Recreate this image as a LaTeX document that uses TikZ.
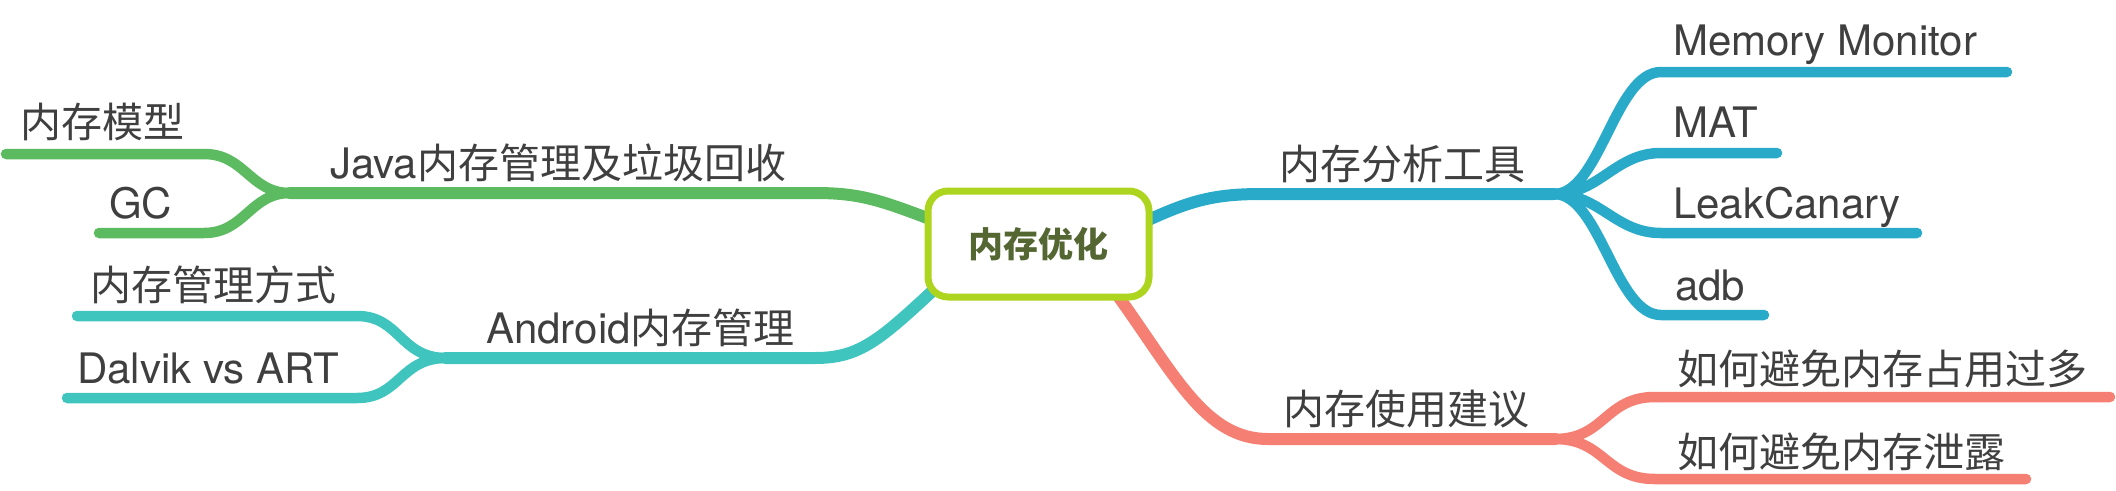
\documentclass[tikz,border=0pt]{standalone}
\usepackage{fontspec}
\setmainfont{TeX Gyre Heros}
\newfontfamily\cjk{Noto Sans CJK SC}
\definecolor{cgreen}{HTML}{5CBB60}
\definecolor{cteal}{HTML}{40C5BE}
\definecolor{cblue}{HTML}{2AAAC9}
\definecolor{csalmon}{HTML}{F47F72}
\definecolor{clime}{HTML}{ADD41F}
\definecolor{colive}{HTML}{546632}
\definecolor{txt}{HTML}{3F3F3F}
\newcommand{\zh}[1]{{\fontsize{41}{48}\cjk #1}}
\tikzset{
  trunk/.style={line width=12pt, line cap=round},
  twig/.style={line width=10.5pt, line cap=round},
  lbl/.style={anchor=base west, inner sep=0pt, text=txt, font=\fontsize{42}{48}\selectfont},
  rootbox/.style={draw=clime, line width=7pt, rounded corners=20pt, fill=white,
    minimum width=221pt, minimum height=106pt, inner sep=0pt, text=colive,
    font=\fontsize{35}{40}\selectfont}
}
\begin{document}
\begin{tikzpicture}[x=1pt,y=-1pt]
\useasboundingbox (0,0) rectangle (2116,490);

% coordinates
\coordinate (gs) at (935,221);
\coordinate (gb) at (815,193);
\coordinate (gf) at (290,193);
\coordinate (g1) at (204,154);
\coordinate (g1e) at (6,154);
\coordinate (g2) at (204,233);
\coordinate (g2e) at (99,233);

\coordinate (ts) at (940,284);
\coordinate (tb) at (815,358);
\coordinate (tf) at (446,358);
\coordinate (t1) at (357,316);
\coordinate (t1e) at (77,316);
\coordinate (t2) at (357,398);
\coordinate (t2e) at (67,398);

\coordinate (bs) at (1140,224);
\coordinate (bb) at (1262,194);
\coordinate (bf) at (1554,194);
\coordinate (b1) at (1661,72);
\coordinate (b1e) at (2007,72);
\coordinate (b2) at (1661,153);
\coordinate (b2e) at (1777,153);
\coordinate (b3) at (1661,233);
\coordinate (b3e) at (1917,233);
\coordinate (b4) at (1661,315);
\coordinate (b4e) at (1764,315);

\coordinate (ss) at (1118,296);
\coordinate (sb) at (1268,439);
\coordinate (sf) at (1555,439);
\coordinate (s1) at (1655,397);
\coordinate (s1e) at (2110,397);
\coordinate (s2) at (1655,479);
\coordinate (s2e) at (2026,479);

% green branch
\draw[trunk, cgreen] (gs) .. controls (880,200) and (860,193) .. (gb) -- (gf);
\draw[twig, cgreen] (gf) .. controls (250,193) and (245,154) .. (g1) -- (g1e);
\draw[twig, cgreen] (gf) .. controls (250,193) and (245,233) .. (g2) -- (g2e);

% teal branch
\draw[trunk, cteal] (ts) .. controls (880,340) and (860,358) .. (tb) -- (tf);
\draw[twig, cteal] (tf) .. controls (400,358) and (400,316) .. (t1) -- (t1e);
\draw[twig, cteal] (tf) .. controls (400,358) and (400,398) .. (t2) -- (t2e);

% blue branch
\draw[trunk, cblue] (bs) .. controls (1190,200) and (1215,194) .. (bb) -- (bf);
\draw[twig, cblue] (bf) .. controls (1600,194) and (1615,72) .. (b1) -- (b1e);
\draw[twig, cblue] (bf) .. controls (1600,194) and (1615,153) .. (b2) -- (b2e);
\draw[twig, cblue] (bf) .. controls (1600,194) and (1615,233) .. (b3) -- (b3e);
\draw[twig, cblue] (bf) .. controls (1600,194) and (1615,315) .. (b4) -- (b4e);

% salmon branch
\draw[trunk, csalmon] (ss) .. controls (1175,375) and (1205,439) .. (sb) -- (sf);
\draw[twig, csalmon] (sf) .. controls (1605,439) and (1605,397) .. (s1) -- (s1e);
\draw[twig, csalmon] (sf) .. controls (1605,439) and (1605,479) .. (s2) -- (s2e);

% root
\node[rootbox] (root) at (1038.5,244) {\cjk\bfseries 内存优化};

% labels
\node[lbl] (java) at (330,178) {Java\zh{内存管理及垃圾回收}};
\node[lbl] (mx) at (20,137) {\zh{内存模型}};
\node[lbl] (gc) at (109,218) {GC};
\node[lbl] (android) at (486,343) {Android\zh{内存管理}};
\node[lbl] (glfs) at (90,300) {\zh{内存管理方式}};
\node[lbl] (dalvik) at (77,383) {Dalvik vs ART};
\node[lbl] (fxgj) at (1279,179) {\zh{内存分析工具}};
\node[lbl] (mm) at (1673,55) {Memory Monitor};
\node[lbl] (mat) at (1673,137) {MAT};
\node[lbl] (leak) at (1673,218) {LeakCanary};
\node[lbl] (adb) at (1675,300) {adb};
\node[lbl] (syjy) at (1283,424) {\zh{内存使用建议}};
\node[lbl] (zy) at (1677,384) {\zh{如何避免内存占用过多}};
\node[lbl] (xl) at (1677,467) {\zh{如何避免内存泄露}};
\end{tikzpicture}
\end{document}
